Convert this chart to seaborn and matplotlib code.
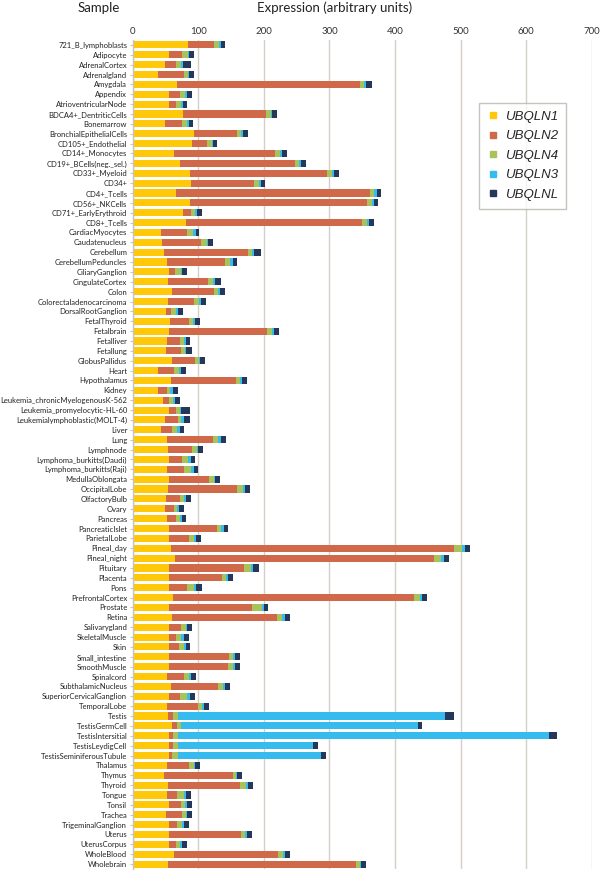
#! /usr/bin/env python

# stacked horizontal bar chart of UBQLN family expression per sample
import numpy as np
import pandas as pd
import matplotlib
matplotlib.use("Agg")
import matplotlib.pyplot as plt
from matplotlib.lines import Line2D
import seaborn as sns

# sample names (top to bottom)
samples = ["721_B_lymphoblasts", "Adipocyte", "AdrenalCortex", "Adrenalgland", "Amygdala",
           "Appendix", "AtrioventricularNode", "BDCA4+_DentriticCells", "Bonemarrow",
           "BronchialEpithelialCells", "CD105+_Endothelial", "CD14+_Monocytes",
           "CD19+_BCells(neg._sel.)", "CD33+_Myeloid", "CD34+", "CD4+_Tcells", "CD56+_NKCells",
           "CD71+_EarlyErythroid", "CD8+_Tcells", "CardiacMyocytes", "Caudatenucleus",
           "Cerebellum", "CerebellumPeduncles", "CiliaryGanglion", "CingulateCortex", "Colon",
           "Colorectaladenocarcinoma", "DorsalRootGanglion", "FetalThyroid", "Fetalbrain",
           "Fetalliver", "Fetallung", "GlobusPallidus", "Heart", "Hypothalamus", "Kidney",
           "Leukemia_chronicMyelogenousK-562", "Leukemia_promyelocytic-HL-60",
           "Leukemialymphoblastic(MOLT-4)", "Liver", "Lung", "Lymphnode",
           "Lymphoma_burkitts(Daudi)", "Lymphoma_burkitts(Raji)", "MedullaOblongata",
           "OccipitalLobe", "OlfactoryBulb", "Ovary", "Pancreas", "PancreaticIslet",
           "ParietalLobe", "Pineal_day", "Pineal_night", "Pituitary", "Placenta", "Pons",
           "PrefrontalCortex", "Prostate", "Retina", "Salivarygland", "SkeletalMuscle", "Skin",
           "Small_intestine", "SmoothMuscle", "Spinalcord", "SubthalamicNucleus",
           "SuperiorCervicalGanglion", "TemporalLobe", "Testis", "TestisGermCell",
           "TestisIntersitial", "TestisLeydigCell", "TestisSeminiferousTubule", "Thalamus",
           "Thymus", "Thyroid", "Tongue", "Tonsil", "Trachea", "TrigeminalGanglion", "Uterus",
           "UterusCorpus", "WholeBlood", "Wholebrain"]

# values, one list per gene
UBQLN1 = [84, 56, 48.5, 39, 67, 54.6, 54.6,
          77, 48.5, 94, 90.8, 63.3, 72, 87.8,
          89, 65.3, 87, 76.5, 81, 43.4, 45,
          47.4, 52.5, 54.6, 53.6, 60.2, 53.6, 51,
          57, 54.6, 52.5, 50.5, 59.2, 37.8, 58.2,
          38.8, 46.4, 56, 48.5, 42.3, 51.5, 54,
          55.6, 51.5, 55.6, 53.6, 50.5, 49.5, 51.5,
          55.6, 55.6, 58.7, 64.8, 55.6, 55.6, 55.6,
          60.7, 54.6, 59.7, 54.6, 55.6, 54.6, 54.6,
          55.6, 52.5, 57.7, 54.6, 51.5, 53, 59.2,
          54.6, 54.6, 54.6, 51.5, 47.4, 53.6, 52.5,
          56, 50.5, 54.6, 54.6, 56, 63.3, 53.6]
UBQLN2 = [39.5, 19.5, 17.5, 38.5, 279, 17, 10.7,
          126.6, 27, 65.7, 23, 154, 175, 208,
          95.7, 296, 270.6, 12.8, 268, 39.2, 59.6,
          129, 88.3, 10.2, 61.7, 63.3, 40.4, 7.7,
          28.2, 150, 18.9, 23, 35.2, 25.5, 98.8,
          13.7, 9.2, 10, 20.9, 16.9, 71.5, 36.3,
          19.9, 27.1, 61.2, 106.1, 20.9, 13.8, 14.5,
          73.4, 29.6, 432, 395, 114.3, 81.1, 27.6,
          368.6, 127, 160.2, 19.4, 10.4, 15.3, 92.3,
          90.3, 26.1, 72.9, 16.8, 48.5, 8.7, 8.7,
          7.1, 6.1, 4.6, 33.7, 105.2, 109.7, 14.8,
          17.5, 24, 12.7, 111.2, 10.3, 158.1, 287.2]
UBQLN4 = [7.5, 8, 7, 6.5, 7, 8, 7.7,
          6.6, 7, 6, 6.6, 7, 7, 7.6,
          7.5, 7.2, 7, 6, 9, 9.7, 8.7,
          6.2, 7.2, 8.7, 7.7, 6.5, 7, 7.6,
          7.1, 7.6, 6.1, 6.5, 6.6, 7.7, 6.8,
          4.5, 6.1, 6.4, 4.6, 8.7, 7, 7.1,
          9.2, 10.7, 6.7, 8.2, 7.2, 4.6, 6,
          5.7, 7.7, 11.7, 10.7, 9.7, 6.2, 10.7,
          9.1, 15.3, 8.1, 6.6, 8, 7.6, 6.7,
          7.7, 7.6, 6.6, 11.8, 6, 6.7, 6.1,
          6.7, 7.7, 9.2, 7.7, 5.1, 9.1, 10.2,
          6.5, 6.1, 7.7, 5.6, 6.1, 7.2, 5.6]
UBQLN3 = [3.5, 2, 3.5, 2, 3.5, 3, 3,
          2.6, 2.6, 3, 2.6, 3.5, 3, 4,
          3.5, 3.6, 3.6, 2.6, 1.7, 4, 2,
          3, 4.6, 2, 3, 3.7, 2.6, 2.7,
          3.1, 3.1, 3.1, 1.6, 1.5, 3, 3,
          3.7, 3.1, 1.6, 3.5, 3.5, 4.2, 2.1,
          4.1, 3.6, 1.5, 3.5, 2.4, 2.5, 2.5,
          4.6, 4, 4.1, 3.5, 3.1, 3.1, 2.5,
          3.1, 2.6, 3.6, 2, 3.5, 3.1, 3,
          3, 3.1, 3.6, 4, 2, 407.2, 360.4,
          566, 206.6, 218.8, 2.5, 2, 3.1, 3.1,
          2.6, 2.6, 3.6, 3.1, 2.6, 3.5, 1.6]
UBQLNL = [6, 7.5, 12.5, 7.5, 8, 7.7, 7,
          7, 7, 7.6, 6, 7, 7, 7.6,
          6.5, 7, 6.6, 7, 7.6, 5, 7.7,
          10.3, 7, 7.5, 8.7, 7.1, 7.6, 7.5,
          7.1, 7.1, 7.2, 8.7, 7.7, 7.6, 7.7,
          7.7, 7.6, 13, 9.5, 7.2, 7.6, 7.5,
          6.6, 7.1, 8.7, 7.2, 7.8, 7.1, 7.1,
          6.7, 6.7, 7.6, 7.7, 9.1, 7, 8.6,
          7.1, 7.1, 8.2, 7.7, 7.7, 6.4, 7.2,
          7.2, 7.1, 7.2, 7.2, 7.8, 13.7, 6.6,
          12.7, 7.6, 7.2, 7.6, 7.6, 7.7, 7.7,
          8.2, 7.6, 7.1, 7.1, 7.6, 7.7, 8]

genes = ["UBQLN1", "UBQLN2", "UBQLN4", "UBQLN3", "UBQLNL"]
colors = ["#FFC90A", "#D0694A", "#A8C35A", "#35BBEE", "#263859"]

df = pd.DataFrame({"sample": samples, "UBQLN1": UBQLN1, "UBQLN2": UBQLN2,
                   "UBQLN4": UBQLN4, "UBQLN3": UBQLN3, "UBQLNL": UBQLNL})

# cumulative sums so the stack can be drawn back to front
cum = df[genes].cumsum(axis=1)

sns.set_theme(style="white")
plt.rcParams['font.family'] = ['Lato', 'DejaVu Sans']

fig = plt.figure(figsize=(6, 8.71), dpi=100)
ax = fig.add_axes([0.2213, 0.0023, 0.7648, 0.9518])

# draw the longest piece first, each shorter one over it
for g, c in reversed(list(zip(genes, colors))):
    sns.barplot(x=cum[g], y=df["sample"], orient="h", color=c, saturation=1,
                width=0.72, linewidth=0, ax=ax)

ax.set_xlim(0, 700)
ax.set_xticks(np.arange(0, 701, 100))
ax.xaxis.tick_top()
ax.tick_params(axis="x", labelsize=7, length=0, pad=3, colors="#333333")
ax.tick_params(axis="y", labelsize=5.5, length=2.5, width=0.8, color="#c8c4bc",
               pad=1.5, left=True, colors="#222222")
ax.set_xlabel("")
ax.set_ylabel("")
ax.grid(axis="x", color="#d4d0c8", linewidth=1)
ax.set_axisbelow(True)
for s in ["top", "right", "bottom"]:
    ax.spines[s].set_visible(False)
ax.spines["left"].set_color("#c8c4bc")
ax.spines["left"].set_linewidth(1)

# headers above the axes
fig.text(0.165, 0.991, "Sample", ha="center", va="center", fontsize=9.5, color="#222222")
fig.text(0.5575, 0.991, "Expression (arbitrary units)", ha="center", va="center",
         fontsize=9.5, color="#222222")

# legend with square markers
handles = [Line2D([], [], marker="s", linestyle="", markersize=5, color=c) for c in colors]
leg = ax.legend(handles, genes, loc="upper left", bbox_to_anchor=(0.798, 0.882),
                bbox_transform=fig.transFigure, frameon=True, fancybox=False,
                borderaxespad=0,
                prop={"family": "Liberation Sans", "style": "italic", "size": 9.5},
                labelspacing=0.55, handletextpad=0.4, borderpad=0.6, handlelength=1.0)
leg.get_frame().set_edgecolor("#b8b4ac")
leg.get_frame().set_linewidth(1)

fig.savefig("out.png", dpi=100)
